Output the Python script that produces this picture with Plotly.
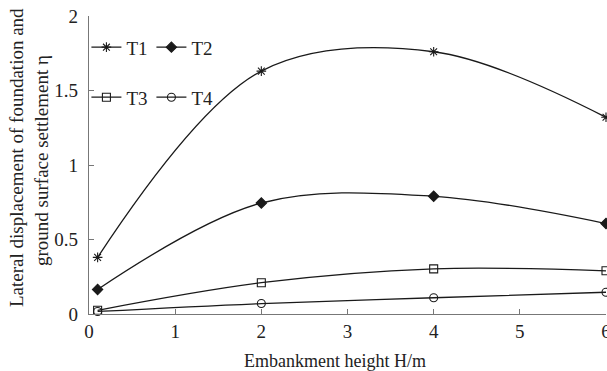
import plotly.graph_objects as go

x_vals = [0.1, 2, 4, 6]
t1 = [0.38, 1.63, 1.76, 1.32]
t2 = [0.165, 0.745, 0.79, 0.607]
t3 = [0.025, 0.21, 0.303, 0.29]
t4 = [0.017, 0.07, 0.109, 0.146]
x_ticks = [0, 1, 2, 3, 4, 5, 6]
y_ticks = [0, 0.5, 1, 1.5, 2]
series = [("T1", t1, "asterisk-open", "legend"),
          ("T2", t2, "diamond", "legend"),
          ("T3", t3, "square-open", "legend2"),
          ("T4", t4, "circle-open", "legend2")]

FONT = "Liberation Serif, Times New Roman, serif"
INK = "#1a1a1a"
fig = go.Figure()
for name, ys, sym, leg in series:
    fig.add_trace(go.Scatter(
        x=x_vals, y=ys, name=name, mode="lines+markers",
        line=dict(color=INK, width=1.3, shape="spline", smoothing=1.0),
        marker=dict(symbol=sym, size=8, color=INK, line=dict(color=INK, width=1.1)),
        legend=leg, cliponaxis=False,
    ))

axis_common = dict(showline=True, linecolor="#777777", linewidth=1.3,
                   ticks="inside", ticklen=5, tickcolor="#777777",
                   showgrid=False, zeroline=False, automargin=False,
                   ticklabeloverflow="allow",
                   tickfont=dict(family=FONT, size=19, color="#222222"))
legend_common = dict(orientation="h", xanchor="left", yanchor="middle",
                     font=dict(family=FONT, size=19, color="#222222"),
                     bgcolor="rgba(0,0,0,0)", itemwidth=30,
                     entrywidth=20, entrywidthmode="pixels")
title_font = dict(family=FONT, size=19, color="#222222")
fig.update_layout(
    width=607, height=371,
    margin=dict(l=89, r=1, t=16, b=57),
    paper_bgcolor="white", plot_bgcolor="white",
    font=dict(family=FONT, color="#222222"),
    xaxis=dict(range=[0, 6], tickvals=x_ticks, **axis_common),
    yaxis=dict(range=[0, 2], tickvals=y_ticks, ticklabelstandoff=6, **axis_common),
    legend=dict(x=-0.005, y=0.895, **legend_common),
    legend2=dict(x=-0.005, y=0.727, **legend_common),
    annotations=[
        dict(text="Embankment height H/m", xref="paper", yref="paper",
             x=(335 - 89) / 517, y=-(361 - 314) / 298, xanchor="center", yanchor="middle",
             showarrow=False, font=dict(family=FONT, size=18, color="#222222")),
        dict(text="Lateral displacement of foundation and",
             xref="paper", yref="paper", x=-(89 - 16) / 517, y=(314 - 158) / 298,
             xanchor="center", yanchor="middle", textangle=-90, showarrow=False,
             font=title_font),
        dict(text="ground surface settlement η",
             xref="paper", yref="paper", x=-(89 - 41) / 517, y=(314 - 161) / 298,
             xanchor="center", yanchor="middle", textangle=-90, showarrow=False,
             font=title_font),
    ],
)
fig.write_html("out.html", config={"displayModeBar": False},
               post_script="document.body.style.margin='0';document.body.style.overflow='hidden';")
